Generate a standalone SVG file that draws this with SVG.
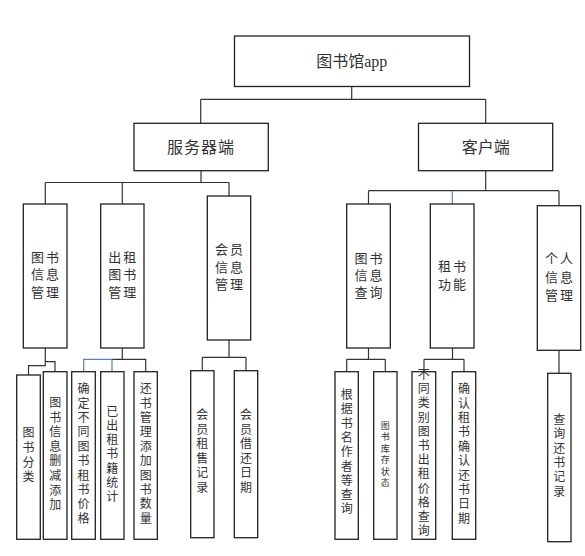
<svg xmlns="http://www.w3.org/2000/svg" width="585" height="556" viewBox="0 0 585 556">
<style>
.box{fill:#fff;stroke:#222;stroke-width:1.3}
.ln{fill:none;stroke:#333;stroke-width:1.2}
.bl{fill:none;stroke:#5b7fc4;stroke-width:1.2}
text{font-family:"Liberation Serif","Noto Sans CJK SC",serif;fill:#333;dominant-baseline:central;text-anchor:middle}
.t1{font-size:16px}
.t2{font-size:13px;letter-spacing:2px}
.t3{font-size:12px}
.t4{font-size:9px}
</style>
<rect width="585" height="556" fill="#fff"/>
<g id="connectors">
<path class="ln" d="M351.7 86.5V99.3M200.7 99.3H485.7M200.7 99.3V123.3M485.7 99.3V123.3"/>
<path class="ln" d="M201 170.7V182.5M45.3 182.5H229M45.3 182.5V204M122.3 182.5V204M229 182.5V196"/>
<path class="ln" d="M485.7 170.7V190.7M368.5 190.7H559M368.5 190.7V204M559 190.7V205.7"/>
<path class="bl" d="M452.3 190.7V204"/>
<path class="ln" d="M45.3 348V365.7H28.5V375M45.3 361.7H55V371.7"/>
<path class="ln" d="M122.3 348V359.3M112 359.3H145.7V371.7"/>
<path class="bl" d="M83.7 371.7V359.3H112V371.7"/>
<path class="ln" d="M229 340V357.3M202.3 357.3H246M202.3 357.3V370.7M246 357.3V370.7"/>
<path class="ln" d="M368.5 348V359.3M346.7 359.3H385.3M346.7 359.3V371.7M385.3 359.3V371.7"/>
<path class="ln" d="M452.5 348V359.3M424 359.3H464M424 359.3V371.7M464 359.3V371.7"/>
<path class="ln" d="M559 350.3V373.3"/>
</g>
<g id="root"><rect class="box" x="234.5" y="36" width="235" height="50.5"/><text class="t1" x="351.7" y="61">图书馆app</text></g>
<g id="server"><rect class="box" x="134" y="123.3" width="134.3" height="47.4"/><text class="t1" x="201" y="147" letter-spacing="1">服务器端</text></g>
<g id="client"><rect class="box" x="418.5" y="123.3" width="134.2" height="47.4"/><text class="t1" x="485.7" y="147">客户端</text></g>

<g id="n_tsxxgl"><rect class="box" x="23.3" y="204" width="43.7" height="144"/><text class="t2"><tspan x="46" y="256.7">图书</tspan><tspan x="46" y="274.3">信息</tspan><tspan x="46" y="292.3">管理</tspan></text></g>
<g id="n_cztsgl"><rect class="box" x="100.7" y="204" width="43.3" height="144"/><text class="t2"><tspan x="123.3" y="256.7">出租</tspan><tspan x="123.3" y="274.3">图书</tspan><tspan x="123.3" y="292.3">管理</tspan></text></g>
<g id="n_hyxxgl"><rect class="box" x="207.3" y="196" width="43.4" height="144"/><text class="t2"><tspan x="230" y="249.3">会员</tspan><tspan x="230" y="266.7">信息</tspan><tspan x="230" y="284">管理</tspan></text></g>
<g id="n_tsxxcx"><rect class="box" x="346.7" y="204" width="43.6" height="144"/><text class="t2"><tspan x="369.5" y="257.7">图书</tspan><tspan x="369.5" y="275">信息</tspan><tspan x="369.5" y="292.3">查询</tspan></text></g>
<g id="n_zsgn"><rect class="box" x="430.3" y="204" width="43.7" height="144"/><text class="t2"><tspan x="453" y="266">租书</tspan><tspan x="453" y="284.3">功能</tspan></text></g>
<g id="n_grxxgl"><rect class="box" x="537.3" y="205.7" width="43.4" height="144.6"/><text class="t2" font-size="14"><tspan x="560" y="258.3">个人</tspan><tspan x="560" y="277.3">信息</tspan><tspan x="560" y="294.7">管理</tspan></text></g>

<g id="l_tsfl"><rect class="box" x="16.7" y="375" width="23.6" height="164.3"/><text class="t3"><tspan x="28.5" y="433.3">图</tspan><tspan x="28.5" y="448">书</tspan><tspan x="28.5" y="462.7">分</tspan><tspan x="28.5" y="477.3">类</tspan></text></g>
<g id="l_tsxxscjtj"><rect class="box" x="43.3" y="371.7" width="23.7" height="167.6"/><text class="t3"><tspan x="55.2" y="403.3">图</tspan><tspan x="55.2" y="417.7">书</tspan><tspan x="55.2" y="432.3">信</tspan><tspan x="55.2" y="446.7">息</tspan><tspan x="55.2" y="461.3">删</tspan><tspan x="55.2" y="476">减</tspan><tspan x="55.2" y="490.7">添</tspan><tspan x="55.2" y="505">加</tspan></text></g>
<g id="l_qdjg"><rect class="box" x="71.7" y="371.7" width="23.6" height="167.6"/><text class="t3"><tspan x="83.5" y="389.3">确</tspan><tspan x="83.5" y="403.7">定</tspan><tspan x="83.5" y="418">不</tspan><tspan x="83.5" y="432.4">同</tspan><tspan x="83.5" y="446.8">图</tspan><tspan x="83.5" y="461.2">书</tspan><tspan x="83.5" y="475.6">租</tspan><tspan x="83.5" y="490">书</tspan><tspan x="83.5" y="504.4">价</tspan><tspan x="83.5" y="518.8">格</tspan></text></g>
<g id="l_yczsjtj"><rect class="box" x="100.7" y="371.7" width="23.3" height="167.6"/><text class="t3"><tspan x="112.3" y="411.7">已</tspan><tspan x="112.3" y="425.9">出</tspan><tspan x="112.3" y="440.1">租</tspan><tspan x="112.3" y="454.3">书</tspan><tspan x="112.3" y="468.5">籍</tspan><tspan x="112.3" y="482.7">统</tspan><tspan x="112.3" y="496.9">计</tspan></text></g>
<g id="l_hsgl"><rect class="box" x="134" y="371.7" width="23.3" height="167.6"/><text class="t3"><tspan x="145.7" y="389.3">还</tspan><tspan x="145.7" y="403.7">书</tspan><tspan x="145.7" y="418">管</tspan><tspan x="145.7" y="432.4">理</tspan><tspan x="145.7" y="446.8">添</tspan><tspan x="145.7" y="461.2">加</tspan><tspan x="145.7" y="475.6">图</tspan><tspan x="145.7" y="490">书</tspan><tspan x="145.7" y="504.4">数</tspan><tspan x="145.7" y="518.8">量</tspan></text></g>
<g id="l_hyzsjl"><rect class="box" x="190.7" y="370.7" width="23.3" height="167"/><text class="t3"><tspan x="202.3" y="415">会</tspan><tspan x="202.3" y="429.5">员</tspan><tspan x="202.3" y="444">租</tspan><tspan x="202.3" y="458.5">售</tspan><tspan x="202.3" y="473">记</tspan><tspan x="202.3" y="487.5">录</tspan></text></g>
<g id="l_hyjhrq"><rect class="box" x="234.3" y="370.7" width="23.4" height="167"/><text class="t3"><tspan x="246" y="415">会</tspan><tspan x="246" y="429.5">员</tspan><tspan x="246" y="444">借</tspan><tspan x="246" y="458.5">还</tspan><tspan x="246" y="473">日</tspan><tspan x="246" y="487.5">期</tspan></text></g>

<g id="l_gjsmcx"><rect class="box" x="335" y="371.7" width="23.3" height="167.6"/><text class="t3"><tspan x="346.7" y="395">根</tspan><tspan x="346.7" y="409.3">据</tspan><tspan x="346.7" y="423.6">书</tspan><tspan x="346.7" y="437.9">名</tspan><tspan x="346.7" y="452.2">作</tspan><tspan x="346.7" y="466.5">者</tspan><tspan x="346.7" y="480.8">等</tspan><tspan x="346.7" y="495.1">查</tspan><tspan x="346.7" y="509.4">询</tspan></text></g>
<g id="l_tskczt"><rect class="box" x="373.7" y="371.7" width="23.3" height="167.6"/><text class="t4"><tspan x="385.3" y="426">图</tspan><tspan x="385.3" y="437.4">书</tspan><tspan x="385.3" y="448.8">库</tspan><tspan x="385.3" y="460.2">存</tspan><tspan x="385.3" y="471.6">状</tspan><tspan x="385.3" y="483">态</tspan></text></g>
<g id="l_btlbcx"><rect class="box" x="412" y="371.7" width="23.7" height="167.6"/><text class="t3"><tspan x="423.8" y="375">不</tspan><tspan x="423.8" y="389.2">同</tspan><tspan x="423.8" y="403.4">类</tspan><tspan x="423.8" y="417.6">别</tspan><tspan x="423.8" y="431.8">图</tspan><tspan x="423.8" y="446">书</tspan><tspan x="423.8" y="460.2">出</tspan><tspan x="423.8" y="474.4">租</tspan><tspan x="423.8" y="488.6">价</tspan><tspan x="423.8" y="502.8">格</tspan><tspan x="423.8" y="517">查</tspan><tspan x="423.8" y="531.2">询</tspan></text></g>
<g id="l_qrzs"><rect class="box" x="452.3" y="371.7" width="23.4" height="167.6"/><text class="t3"><tspan x="464" y="389.3">确</tspan><tspan x="464" y="403.7">认</tspan><tspan x="464" y="418">租</tspan><tspan x="464" y="432.4">书</tspan><tspan x="464" y="446.8">确</tspan><tspan x="464" y="461.2">认</tspan><tspan x="464" y="475.6">还</tspan><tspan x="464" y="490">书</tspan><tspan x="464" y="504.4">日</tspan><tspan x="464" y="518.8">期</tspan></text></g>
<g id="l_cxhsjl"><rect class="box" x="547.7" y="373.3" width="23.3" height="168.4"/><text class="t3"><tspan x="559.3" y="420">查</tspan><tspan x="559.3" y="434.3">询</tspan><tspan x="559.3" y="448.6">还</tspan><tspan x="559.3" y="462.9">书</tspan><tspan x="559.3" y="477.2">记</tspan><tspan x="559.3" y="491.5">录</tspan></text></g>
</svg>
